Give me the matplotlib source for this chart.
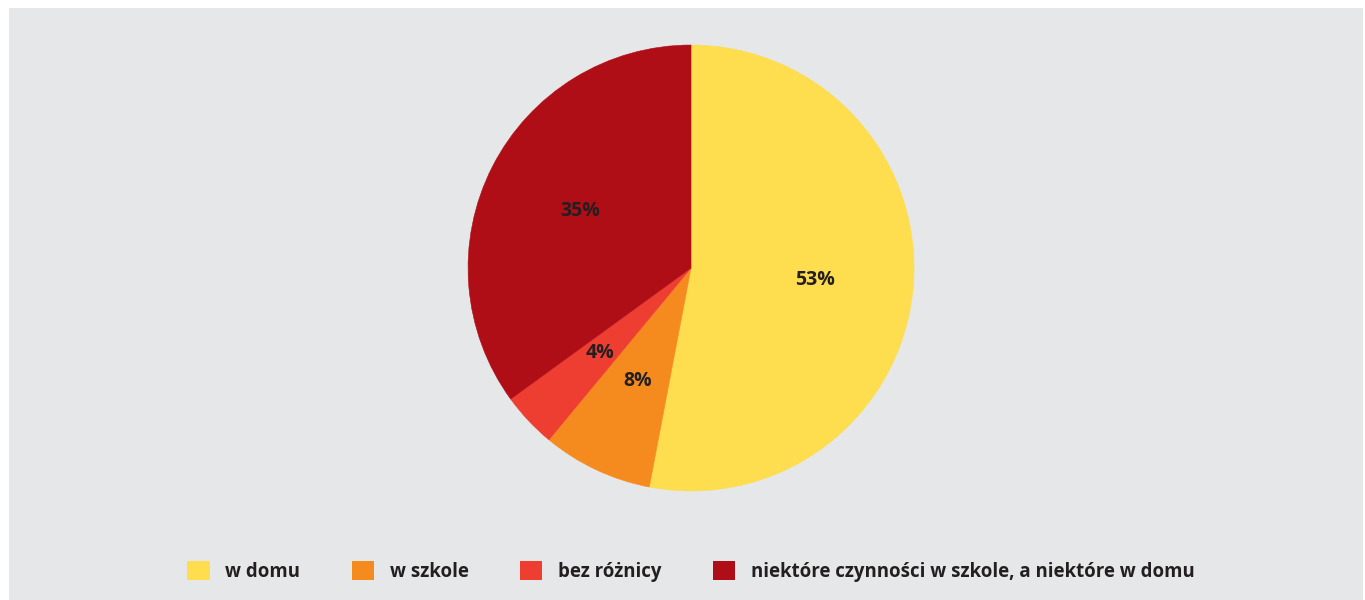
import matplotlib.pyplot as plt
from matplotlib.patches import Patch, Rectangle

# data
labels = ['w domu', 'w szkole', 'bez różnicy', 'niektóre czynności w szkole, a niektóre w domu']
values = [53, 8, 4, 35]
colors = ['#fedd4e', '#f58b1f', '#ee3e32', '#b00e16']

plt.rcParams['font.family'] = ['Open Sans', 'DejaVu Sans']
text_color = '#231f20'

fig = plt.figure(figsize=(13.65, 6), dpi=100)
fig.patch.set_facecolor('white')
# grey panel behind everything
fig.patches.append(Rectangle((9 / 1365, 0), 1354 / 1365, 592 / 600,
                             transform=fig.transFigure, facecolor='#e6e7e8',
                             edgecolor='none', zorder=-1))

ax = fig.add_axes([0.3429, 0.1817, 0.3267, 0.7433])
wedges, texts, autotexts = ax.pie(values, colors=colors, startangle=90, counterclock=False,
                                  autopct=lambda p: f'{p:.0f}%', pctdistance=0.56,
                                  wedgeprops=dict(linewidth=0.4))
for w in wedges:
    w.set_edgecolor(w.get_facecolor())
for t in autotexts:
    t.set_fontsize(14)
    t.set_fontweight('bold')
    t.set_color(text_color)
ax.set_xlim(-1, 1)
ax.set_ylim(-1, 1)
ax.set_aspect('equal')
ax.axis('off')

handles = [Patch(facecolor=c, edgecolor='none') for c in colors]
leg = fig.legend(handles, labels, loc='center', bbox_to_anchor=(0.5062, 0.048), ncol=4,
                 frameon=False, handlelength=1.2, handleheight=1.2, handletextpad=0.85,
                 columnspacing=2.75, prop={'size': 13.4, 'weight': 'bold'})
for t in leg.get_texts():
    t.set_color(text_color)

fig.savefig('out.png', dpi=100)
